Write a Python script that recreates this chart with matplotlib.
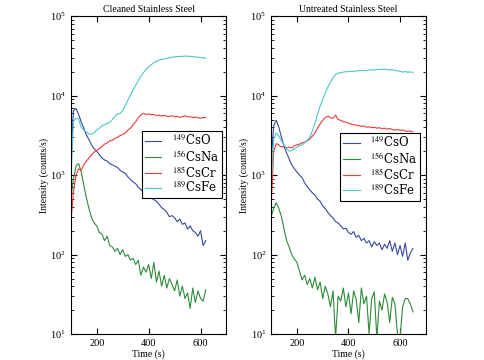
import numpy as np
import matplotlib
matplotlib.use('Agg')
import matplotlib.pyplot as plt

plt.rcParams['font.family'] = ['Liberation Serif', 'DejaVu Serif']
plt.rcParams['mathtext.fontset'] = 'stix'

# 清潔後不鏽鋼 (left)
t_clean = np.arange(100, 630, 10)
cso_clean = [1500, 6500, 6900, 5800, 4700, 3900, 3200, 2800, 2400, 2150,
             2000, 1800, 1650, 1550, 1500, 1400, 1350, 1300, 1250, 1150,
             1100, 1050, 950, 880, 820, 780, 700, 660, 610, 590,
             550, 520, 490, 470, 430, 390, 370, 340, 300, 310,
             290, 260, 280, 240, 250, 210, 230, 200, 190, 170,
             200, 130, 150]
csna_clean = [500, 900, 1300, 1400, 1100, 750, 520, 380, 290, 250,
              230, 190, 180, 150, 170, 130, 125, 110, 120, 100,
              115, 95, 100, 85, 90, 75, 85, 55, 70, 60,
              75, 50, 80, 45, 62, 40, 55, 38, 50, 42,
              35, 48, 30, 40, 28, 33, 21, 38, 25, 35,
              28, 26, 36]
cscr_clean = [250, 600, 1000, 1200, 1150, 1350, 1500, 1650, 1800, 1950,
              2050, 2150, 2300, 2450, 2550, 2700, 2750, 2900, 3000, 3150,
              3250, 3400, 3700, 3900, 4300, 4700, 5300, 5700, 6000, 5800,
              5900, 5750, 5800, 5600, 5700, 5550, 5650, 5500, 5450, 5600,
              5400, 5500, 5350, 5450, 5600, 5400, 5450, 5300, 5400, 5250,
              5200, 5300, 5300]
csfe_clean = [800, 4800, 5200, 5100, 4000, 3700, 3500, 3300, 3250, 3400,
              3700, 3900, 4200, 4300, 4500, 4600, 5000, 5500, 5900, 6000,
              6500, 7600, 8800, 10200, 11800, 13500, 15500, 17500, 19500, 21500,
              23000, 24500, 26000, 27000, 28000, 28500, 29000, 29500, 30000, 30500,
              30800, 31000, 31200, 31200, 31500, 31400, 31200, 31000, 30800, 30500,
              30200, 30000, 29500]

# 未處理不鏽鋼 (right)
t_untr = np.arange(100, 660, 10)
cso_untr = [1500, 4200, 4900, 4000, 3000, 2300, 1900, 1600, 1350, 1200,
            1100, 1000, 930, 800, 720, 650, 600, 560, 500, 470,
            410, 380, 340, 310, 290, 260, 250, 230, 210, 215,
            190, 180, 195, 165, 175, 150, 160, 140, 150, 125,
            145, 130, 140, 115, 135, 120, 150, 110, 140, 100,
            130, 95, 140, 85, 105, 120]
csna_untr = [300, 380, 450, 380, 300, 210, 150, 125, 100, 88,
             80, 62, 48, 55, 42, 50, 38, 52, 36, 45,
             28, 40, 32, 22, 35, 9, 30, 26, 38, 22,
             33, 18, 35, 27, 14, 38, 24, 30, 10, 28,
             34, 9, 26, 20, 32, 25, 14, 29, 24, 10,
             9, 22, 28, 28, 24, 19]
cscr_untr = [400, 2000, 2500, 2400, 2250, 2300, 2200, 2250, 2200, 2350,
             2400, 2450, 2550, 2600, 2700, 2850, 3100, 3400, 3900, 4400,
             4900, 5300, 5500, 5300, 5200, 5700, 5000, 4900, 4700, 4650,
             4500, 4400, 4300, 4250, 4200, 4100, 4150, 4000, 4050, 3950,
             4000, 3900, 3950, 3850, 3900, 3800, 3850, 3750, 3700, 3750,
             3650, 3700, 3600, 3550, 3600, 3500]
csfe_untr = [800, 2800, 3400, 3100, 2700, 2400, 2150, 2000, 2050, 2150,
             2250, 2350, 2400, 2550, 2750, 3000, 3600, 4500, 5800, 7400,
             9000, 10800, 12800, 14800, 16800, 18500, 19200, 19500, 19800, 20000,
             20100, 20300, 20200, 20500, 20600, 20700, 20800, 20700, 21000, 21200,
             21100, 21300, 21500, 21400, 21600, 21300, 21000, 21200, 20800, 20500,
             20300, 19800, 20100, 19700, 19900, 19600]

labels = [r'$^{149}$CsO', r'$^{156}$CsNa', r'$^{185}$CsCr', r'$^{189}$CsFe']
colors = ['#3848a0', '#2e8b3a', '#ee3a3a', '#4cc6cc']

fig = plt.figure(figsize=(4.85, 3.6), dpi=100)
ax1 = fig.add_axes([0.146, 0.072, 0.321, 0.883])
ax2 = fig.add_axes([0.559, 0.072, 0.319, 0.883])

panels = [
    (ax1, t_clean, [cso_clean, csna_clean, cscr_clean, csfe_clean],
     'Cleaned Stainless Steel', (0.97, 0.64)),
    (ax2, t_untr, [cso_untr, csna_untr, cscr_untr, csfe_untr],
     'Untreated Stainless Steel', (0.965, 0.632)),
]

for ax, t, series, title, anchor in panels:
    for y, c, lab in zip(series, colors, labels):
        ax.plot(t, y, color=c, lw=0.8, label=lab)
    ax.set_yscale('log')
    ax.set_ylim(10, 1e5)
    ax.set_xlim(100, 700)
    ax.set_xticks([200, 400, 600])
    ax.set_title(title, fontsize=7, pad=3)
    ax.set_xlabel('Time (s)', fontsize=7, labelpad=1)
    ax.set_ylabel('Intensity (counts/s)', fontsize=7, labelpad=1)
    ax.tick_params(which='both', direction='in', top=True, right=True, labelsize=7.5)
    ax.tick_params(which='major', length=4)
    ax.tick_params(which='minor', length=2)
    leg = ax.legend(loc='upper right', bbox_to_anchor=anchor,
                    handlelength=1.4, borderpad=0.25, labelspacing=0.08,
                    handletextpad=0.9, borderaxespad=0, fancybox=False,
                    framealpha=1, prop={'family': 'DejaVu Serif', 'size': 8.5})
    leg.get_frame().set_edgecolor('black')
    leg.get_frame().set_linewidth(0.8)

fig.savefig('out.png', dpi=100)
